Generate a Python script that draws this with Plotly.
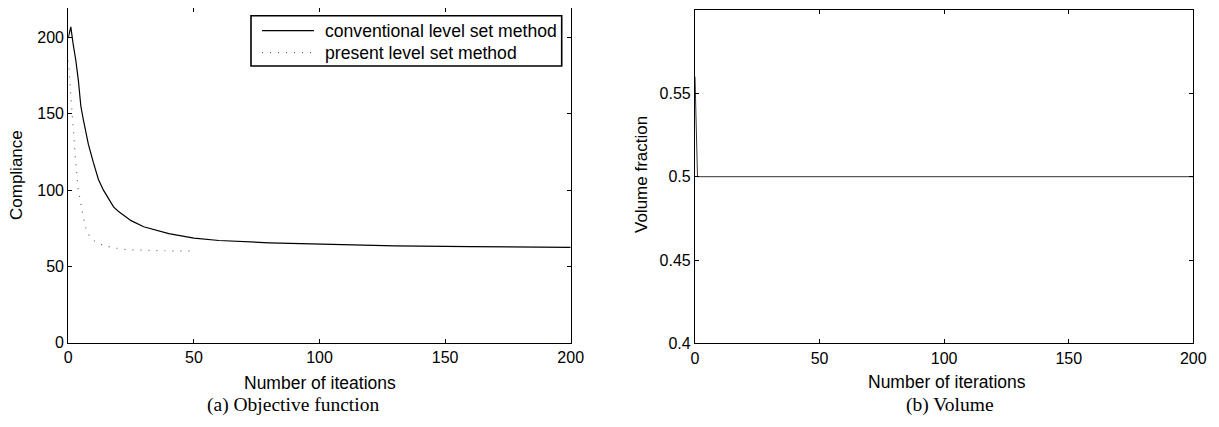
import plotly.graph_objects as go

# Compliance, conventional level set method
conv_iter = [0, 1, 2, 3, 4, 5, 6, 7, 8, 10, 12, 14, 16, 18, 20, 25, 30, 35, 40, 50, 60, 80, 100, 130, 160, 200]
conv_val = [200, 207, 195, 185, 172, 155, 146, 137, 130, 118, 107, 100, 94, 89, 86, 80, 76, 73.5, 71.5, 68.5, 67, 65.5, 64.5, 63.5, 63, 62.5]

# Compliance, present level set method
pres_iter = [0, 1, 2, 3, 4, 5, 6, 7, 8, 10, 13, 17, 22, 26, 30, 40, 49]
pres_val = [185, 160, 138, 117, 100, 90, 82, 75, 71, 67, 64.5, 62.5, 61.2, 60.8, 60.5, 60.2, 60.2]

# Volume fraction
vol_iter = [0, 1, 200]
vol_val = [0.56, 0.5, 0.5]

series_names = ["conventional level set method", "present level set method"]

W, H = 1219, 427
OFF = 8  # page body margin
def px(x):
    return (x - OFF) / W
def py(y):
    return min(1.0, 1 - (y - OFF) / H)

sans = "Liberation Sans, Arial, sans-serif"
serif = "Liberation Serif, Times New Roman, serif"

conv_line = dict(color="black", width=1.2)
pres_line = dict(color="#666666", width=1.2, dash="1px,7px")

fig = go.Figure()
fig.add_trace(go.Scatter(x=conv_iter, y=conv_val, mode="lines", name=series_names[0],
                         line=conv_line, xaxis="x", yaxis="y"))
fig.add_trace(go.Scatter(x=pres_iter, y=pres_val, mode="lines", name=series_names[1],
                         line=pres_line, xaxis="x", yaxis="y"))
fig.add_trace(go.Scatter(x=vol_iter, y=vol_val, mode="lines",
                         line=dict(color="#333333", width=1), xaxis="x2", yaxis="y2"))

tickfont = dict(family=sans, size=16, color="black")
axcommon = dict(showline=True, linecolor="black", linewidth=1.2, mirror="ticks", ticks="inside",
                ticklen=4, tickcolor="black", showgrid=False, zeroline=False, tickfont=tickfont,
                automargin=False)

fig.update_layout(
    width=W, height=H, margin=dict(l=0, r=0, t=0, b=0, autoexpand=False),
    paper_bgcolor="white", plot_bgcolor="white",
    xaxis=dict(domain=[px(68.3), px(570.7)], range=[0, 200], tickvals=[0, 50, 100, 150, 200],
               anchor="y", **axcommon),
    yaxis=dict(domain=[py(342.7), py(8.3)], range=[0, 219.2], tickvals=[0, 50, 100, 150, 200],
               anchor="x", **axcommon),
    xaxis2=dict(domain=[px(695), px(1193.3)], range=[0, 200], tickvals=[0, 50, 100, 150, 200],
                anchor="y2", **axcommon),
    yaxis2=dict(domain=[py(343.3), py(10.1)], range=[0.4, 0.6], tickvals=[0.4, 0.45, 0.5, 0.55],
                ticktext=["0.4", "0.45", "0.5", "0.55"], anchor="x2", **axcommon),
    showlegend=False,
)

# Legend drawn as a box with samples (layout decoration)
shapes = [
    dict(type="rect", xref="paper", yref="paper", x0=px(251), x1=px(561.7), y0=py(66), y1=py(15.7),
         line=dict(color="black", width=1.6), fillcolor="white", layer="above"),
    dict(type="line", xref="paper", yref="paper", x0=px(262), x1=px(314), y0=py(30.7), y1=py(30.7),
         line=conv_line, layer="above"),
    dict(type="line", xref="paper", yref="paper", x0=px(262), x1=px(314), y0=py(52.7), y1=py(52.7),
         line=pres_line, layer="above"),
]
fig.update_layout(shapes=shapes)

ann = [
    dict(text=series_names[0], x=px(322.7), y=py(30.7), xanchor="left", font=dict(family=sans, size=17.6)),
    dict(text=series_names[1], x=px(322.7), y=py(52.7), xanchor="left", font=dict(family=sans, size=17.6)),
    dict(text="Number of iteations", x=px(320), y=py(383), font=dict(family=sans, size=17.5)),
    dict(text="Number of iterations", x=px(947), y=py(382), font=dict(family=sans, size=17.5)),
    dict(text="Compliance", x=px(16), y=py(175), textangle=-90, font=dict(family=sans, size=17)),
    dict(text="Volume fraction", x=px(641), y=py(175), textangle=-90, font=dict(family=sans, size=17)),
    dict(text="(a) Objective function", x=px(293), y=py(405), font=dict(family=serif, size=19.5)),
    dict(text="(b) Volume", x=px(950), y=py(405), font=dict(family=serif, size=19.5)),
]
for a in ann:
    a.setdefault("xanchor", "center")
    a.update(xref="paper", yref="paper", showarrow=False, yanchor="middle")
    a["font"]["color"] = "black"
fig.update_layout(annotations=ann)

fig.write_html("out.html")
